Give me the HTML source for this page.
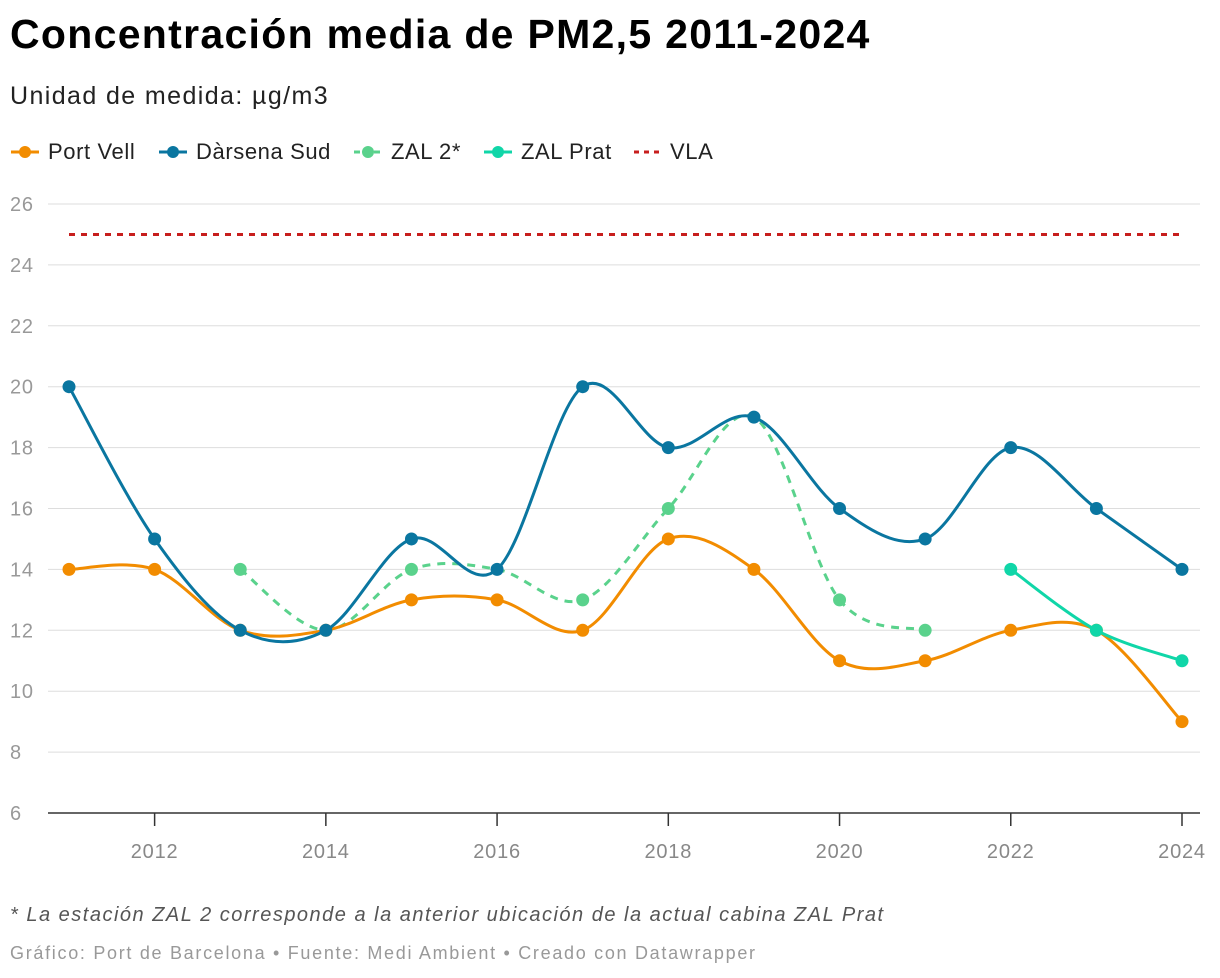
<!DOCTYPE html>
<html><head><meta charset="utf-8">
<style>
body{margin:0;width:1220px;height:978px;background:#fff;font-family:"Liberation Sans",Arial,sans-serif;overflow:hidden;position:relative}
.t{position:absolute;left:10px;top:11px;font-size:41px;font-weight:bold;color:#000;letter-spacing:1.3px;white-space:nowrap}
.s{position:absolute;left:10px;top:82px;font-size:25px;color:#222;letter-spacing:1.4px;white-space:nowrap}
.li{position:absolute;top:139px;display:flex;align-items:center;font-size:22px;color:#222;letter-spacing:0.6px;white-space:nowrap}
.note{position:absolute;left:10px;top:904px;font-size:20px;font-style:italic;color:#555;letter-spacing:1.5px;white-space:nowrap}
.cr{position:absolute;left:10px;top:943px;font-size:18px;color:#999;letter-spacing:1.7px;white-space:nowrap}
svg{position:absolute;left:0;top:0}
.li svg{position:static;margin-right:8px}
</style></head><body>
<div class="t">Concentración media de PM2,5 2011-2024</div>
<div class="s">Unidad de medida: µg/m3</div>
<div>
<div class="li" style="left:10px"><svg width="30" height="14"><line x1="1" y1="7" x2="29" y2="7" stroke="#f28c00" stroke-width="3"/><circle cx="15" cy="7" r="6" fill="#f28c00"/></svg>Port Vell</div>
<div class="li" style="left:158px"><svg width="30" height="14"><line x1="1" y1="7" x2="29" y2="7" stroke="#0a76a0" stroke-width="3"/><circle cx="15" cy="7" r="6" fill="#0a76a0"/></svg>Dàrsena Sud</div>
<div class="li" style="left:353px"><svg width="30" height="14"><line x1="1" y1="7" x2="29" y2="7" stroke="#5ad28c" stroke-width="3" stroke-dasharray="6,4"/><circle cx="15" cy="7" r="6" fill="#5ad28c"/></svg>ZAL 2*</div>
<div class="li" style="left:483px"><svg width="30" height="14"><line x1="1" y1="7" x2="29" y2="7" stroke="#10d6a8" stroke-width="3"/><circle cx="15" cy="7" r="6" fill="#10d6a8"/></svg>ZAL Prat</div>
<div class="li" style="left:632px"><svg width="30" height="14"><line x1="2" y1="7" x2="28" y2="7" stroke="#c71e1d" stroke-width="3" stroke-dasharray="5,5"/></svg>VLA</div>
</div>
<svg id="c" width="1220" height="978"></svg>
<div class="note">* La estación ZAL 2 corresponde a la anterior ubicación de la actual cabina ZAL Prat</div>
<div class="cr">Gráfico: Port de Barcelona • Fuente: Medi Ambient • Creado con Datawrapper</div>
<script>
const years=[2011,2012,2013,2014,2015,2016,2017,2018,2019,2020,2021,2022,2023,2024];
const portVell=[14,14,12,12,13,13,12,15,14,11,11,12,12,9];
const darsenaSud=[20,15,12,12,15,14,20,18,19,16,15,18,16,14];
const zal2=[null,null,14,12,14,14,13,16,19,13,12,null,null,null];
const zal2Dots=[null,null,true,false,true,false,true,true,false,true,true,null,null,null];
const zalPrat=[null,null,null,null,null,null,null,null,null,null,null,14,12,11];
const vla=25;
const yTicks=[6,8,10,12,14,16,18,20,22,24,26];
const xTicks=[2012,2014,2016,2018,2020,2022,2024];
const NS='http://www.w3.org/2000/svg';
const svg=document.getElementById('c');
const X=y=>69+(y-2011)*(1182-69)/13;
const Y=v=>813-(v-6)*(813-204)/20;
function el(t,a,p){const e=document.createElementNS(NS,t);for(const k in a)e.setAttribute(k,a[k]);(p||svg).appendChild(e);return e;}
yTicks.forEach(v=>{
  const g=el('line',{x1:48,x2:1200,y1:Y(v),y2:Y(v),stroke:v===6?'#333':'#ddd','stroke-width':v===6?1.5:1});
  
  
  const t=el('text',{x:10,y:Y(v)+7,'font-size':20,fill:'#999','letter-spacing':'0.8','font-family':'Liberation Sans, sans-serif'});
  t.textContent=v;
  
  
});
xTicks.forEach(yr=>{
  const l=el('line',{x1:X(yr),x2:X(yr),y1:813,y2:826,stroke:'#333','stroke-width':1.5});
  
  
  const t=el('text',{x:X(yr),y:858,'font-size':20,fill:'#888','letter-spacing':'0.8','text-anchor':'middle','font-family':'Liberation Sans, sans-serif'});
  t.textContent=yr;
  
  
});
const vl=el('line',{x1:X(2011),x2:X(2024),y1:Y(vla),y2:Y(vla),stroke:'#c71e1d','stroke-width':3,'stroke-dasharray':'6,6'});


function path(vals){
  const pts=[];vals.forEach((v,i)=>{if(v!==null)pts.push([X(years[i]),Y(v)]);});
  let d='M'+pts[0][0]+','+pts[0][1];
  for(let i=0;i<pts.length-1;i++){
    const p0=pts[Math.max(0,i-1)],p1=pts[i],p2=pts[i+1],p3=pts[Math.min(pts.length-1,i+2)];
    const c1=[p1[0]+(p2[0]-p0[0])/6,p1[1]+(p2[1]-p0[1])/6];
    const c2=[p2[0]-(p3[0]-p1[0])/6,p2[1]-(p3[1]-p1[1])/6];
    d+=`C${c1[0]},${c1[1]} ${c2[0]},${c2[1]} ${p2[0]},${p2[1]}`;
  }
  return d;
}
function series(vals,color,name,dash,dots){
  const p=el('path',{d:path(vals),fill:'none',stroke:color,'stroke-width':3,'stroke-dasharray':dash||'none'});
  
  
  vals.forEach((v,i)=>{
    if(v===null)return;
    if(dots&&!dots[i])return;
    const c=el('circle',{cx:X(years[i]),cy:Y(v),r:6.5,fill:color});
    
    
  });
}
series(zal2,'#5ad28c','zal-2','8,7',zal2Dots);
series(portVell,'#f28c00','port-vell');
series(darsenaSud,'#0a76a0','darsena-sud');
series(zalPrat,'#10d6a8','zal-prat');
</script>
</body></html>
